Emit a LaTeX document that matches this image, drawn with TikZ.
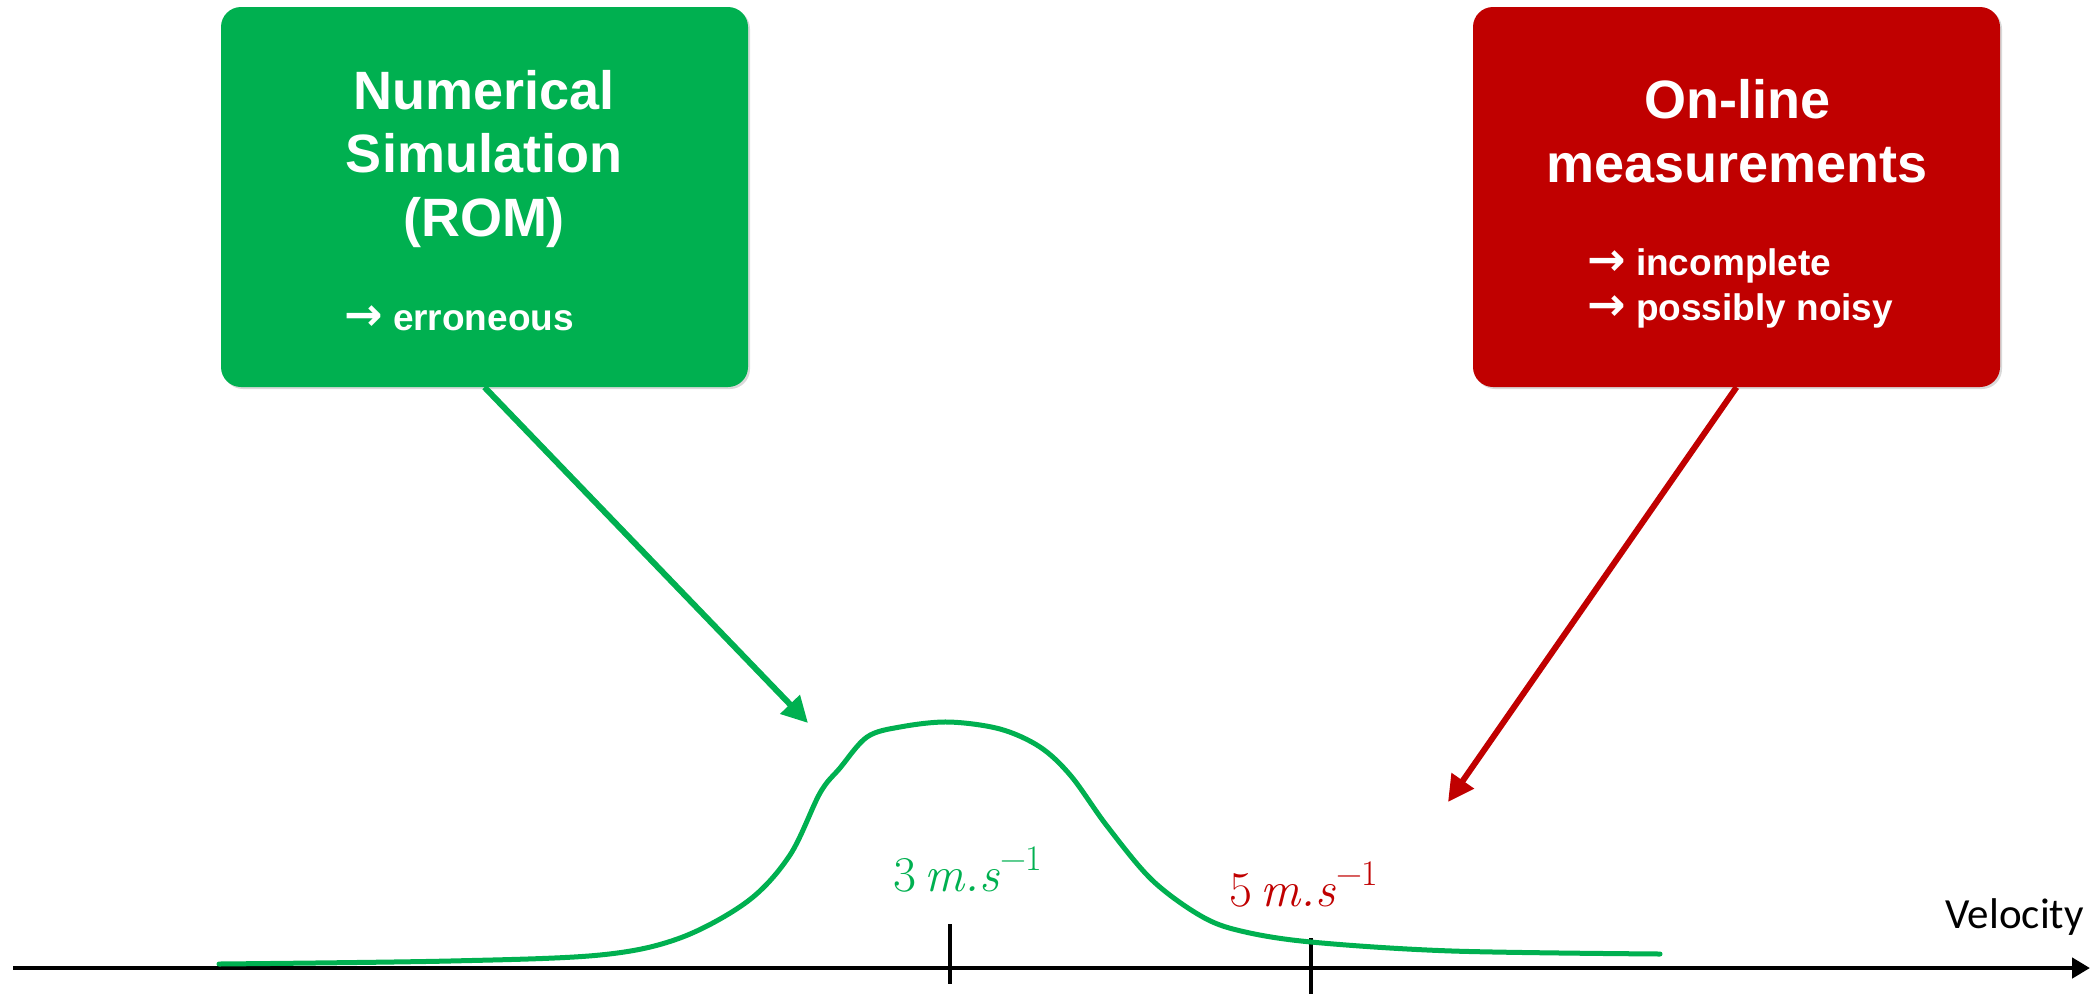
\documentclass[tikz,border=0pt]{standalone}
\usepackage{fontspec}
\newfontfamily\arial{Liberation Sans}
\newfontfamily\arrowfont{DejaVu Sans}
\newfontfamily\calibri{Carlito}
\usetikzlibrary{arrows.meta,shadows}
\definecolor{simgreen}{HTML}{00B050}
\definecolor{measred}{HTML}{C00000}
\newcommand{\bul}{{\arrowfont\bfseries\fontsize{46}{45}\selectfont →}\ }
\newcommand{\perunit}{\,\textit{m.s}\raisebox{0.42em}{\fontsize{36}{36}\selectfont −1}}

\begin{document}
\begin{tikzpicture}[x=1pt,y=-1pt,
    box/.style={rounded corners=20pt, minimum width=527pt, minimum height=380pt, inner sep=0pt,
      drop shadow={shadow xshift=2pt, shadow yshift=-2pt, opacity=0.3}},
    title/.style={text=white, align=center, inner sep=0pt, font=\arial\bfseries\fontsize{54}{63.5}\selectfont},
    note/.style={text=white, align=left, inner sep=0pt, font=\arial\bfseries\fontsize{37}{45}\selectfont},
    link/.style={line width=6pt, -{Triangle[length=26pt,width=26pt]}},
    tick/.style={line width=4pt},
    unit/.style={inner sep=0pt, font=\fontsize{50}{52}\selectfont}
  ]
  \useasboundingbox (0,0) rectangle (2100,994);

  % the two boxes
  \node[box, fill=simgreen] (sim) at (484.5,197) {};
  \node[box, fill=measred] (meas) at (1736.5,197) {};
  \node[title, anchor=base] (simtitle) at (484,236) {Numerical\\Simulation\\(ROM)};
  \node[title, anchor=base] (meastitle) at (1737,182) {On-line\\measurements};
  \node[note, anchor=base west] (simnote) at (344,330) {\bul erroneous};
  \node[note, anchor=base west] (measnote) at (1587,320) {\bul incomplete\\\bul possibly noisy};

  % velocity axis
  \coordinate (axstart) at (13,968);
  \coordinate (axend) at (2090,968);
  \draw[line width=4.5pt, -{Triangle[length=18pt,width=20pt]}] (axstart) -- (axend);
  \node[anchor=base east, inner sep=0pt, font=\calibri\fontsize{43}{45}\selectfont] (vel) at (2084,928) {Velocity};
  \draw[tick] (950,924) -- (950,984);
  \draw[tick] (1311,938) -- (1311,994);

  % distribution
  \draw[simgreen, line width=5pt, line cap=round] plot[smooth, tension=0.55] coordinates {
    (219,964) (450,961) (600,955) (680,938) (748,901) (790,855) (820,793) (840,768)
    (867,737) (900,727) (948,722) (1000,729) (1040,747) (1071,776) (1107,826)
    (1152,880) (1201,916) (1241,931) (1311,942) (1452,951) (1660,954)};
  \node[unit, text=simgreen, anchor=base west] (u3) at (893,891) {3\perunit};
  \node[unit, text=measred, anchor=base west] (u5) at (1229,906) {5\perunit};

  % arrows
  \coordinate (simtip) at (808,723);
  \coordinate (meastip) at (1448,802);
  \draw[link, simgreen] (sim.south) -- (simtip);
  \draw[link, measred] (meas.south) -- (meastip);
\end{tikzpicture}
\end{document}
